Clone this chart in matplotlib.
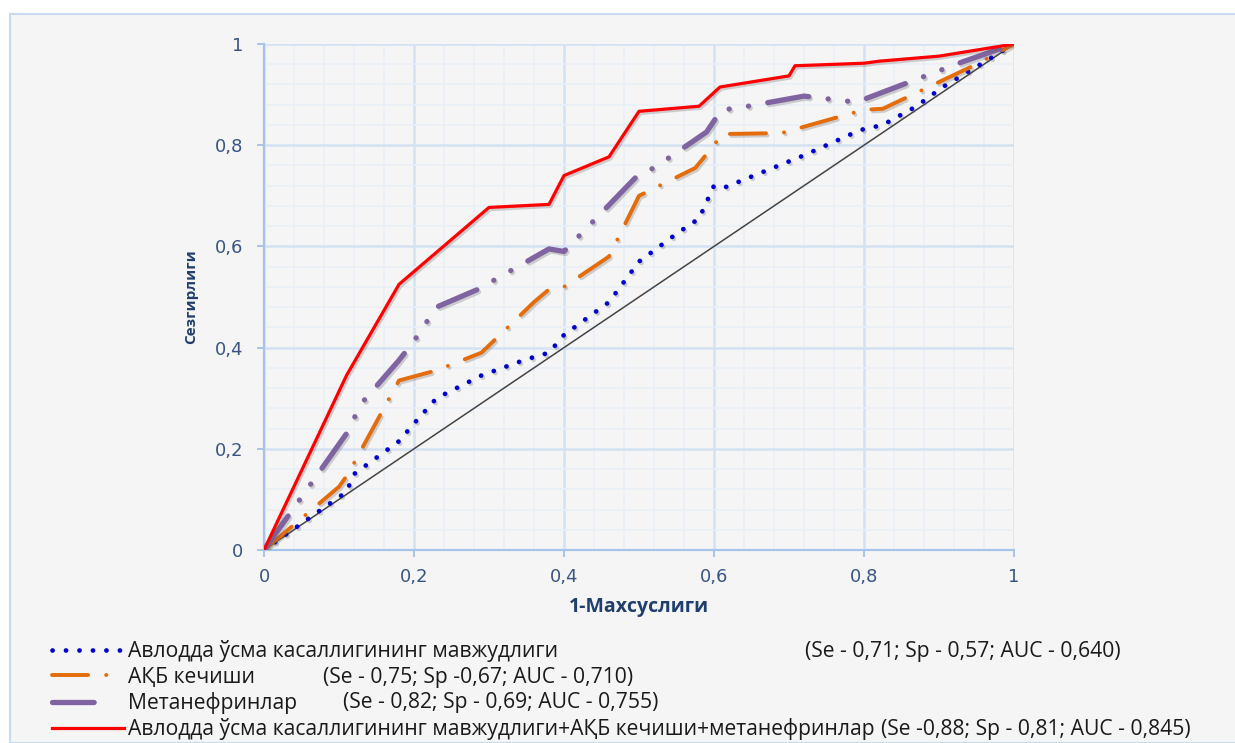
import matplotlib
matplotlib.use("Agg")
import matplotlib.pyplot as plt
import matplotlib.patheffects as pe
from matplotlib.patches import Rectangle
from matplotlib.ticker import MultipleLocator, FuncFormatter

plt.rcParams['lines.scale_dashes'] = False

# ROC curves
blue_x = [0, 0.11, 0.12, 0.18, 0.2, 0.23, 0.29, 0.35, 0.38, 0.4, 0.46, 0.5, 0.55, 0.58, 0.6, 0.615, 0.72, 0.795, 0.825, 0.87, 0.905, 1]
blue_y = [0, 0.115, 0.15, 0.215, 0.25, 0.3, 0.345, 0.377, 0.39, 0.425, 0.49, 0.57, 0.625, 0.655, 0.72, 0.717, 0.78, 0.83, 0.84, 0.877, 0.915, 1]

orange_x = [0, 0.1, 0.112, 0.18, 0.205, 0.23, 0.29, 0.36, 0.38, 0.4, 0.46, 0.5, 0.575, 0.6, 0.61, 0.69, 0.8, 0.825, 0.95, 1]
orange_y = [0, 0.125, 0.15, 0.335, 0.345, 0.355, 0.39, 0.49, 0.515, 0.52, 0.58, 0.70, 0.755, 0.80, 0.822, 0.824, 0.870, 0.872, 0.96, 1]

purple_x = [0, 0.11, 0.13, 0.18, 0.2, 0.23, 0.285, 0.38, 0.4, 0.5, 0.52, 0.59, 0.61, 0.63, 0.72, 0.79, 0.93, 1]
purple_y = [0, 0.23, 0.29, 0.375, 0.413, 0.48, 0.515, 0.595, 0.59, 0.743, 0.755, 0.826, 0.870, 0.873, 0.897, 0.885, 0.964, 1]

red_x = [0, 0.11, 0.18, 0.3, 0.38, 0.4, 0.46, 0.5, 0.58, 0.608, 0.7, 0.708, 0.8, 0.82, 0.9, 1]
red_y = [0, 0.345, 0.525, 0.677, 0.683, 0.74, 0.777, 0.867, 0.877, 0.915, 0.937, 0.957, 0.962, 0.966, 0.976, 1]

diag_x = [0, 1]
diag_y = [0, 1]

names = ['Авлодда ўсма касаллигининг мавжудлиги',
         'АҚБ кечиши',
         'Метанефринлар',
         'Авлодда ўсма касаллигининг мавжудлиги+АҚБ кечиши+метанефринлар']
stats = ['(Se - 0,71; Sp - 0,57; AUC - 0,640)',
         '(Se - 0,75; Sp -0,67; AUC - 0,710)',
         '(Se - 0,82; Sp - 0,69; AUC - 0,755)',
         '(Se -0,88; Sp - 0,81; AUC - 0,845)']
stats_px = [805, 323, 343, 873]   # left edge of the stats text, pixels

W, H = 1235, 743
fig = plt.figure(figsize=(W / 100, H / 100), dpi=100, facecolor='white')
fig.add_artist(Rectangle((10 / W, 0), 1.1, 1 - 14 / H, transform=fig.transFigure,
                         facecolor='#f5f5f5', edgecolor='#c9daf0', lw=1.5, zorder=-10))

ax = fig.add_axes([264 / W, 1 - 550 / H, 750 / W, 506 / H])
ax.set_facecolor('#f5f5f5')
ax.set_xlim(0, 1)
ax.set_ylim(0, 1)

ax.xaxis.set_major_locator(MultipleLocator(0.2))
ax.yaxis.set_major_locator(MultipleLocator(0.2))
ax.xaxis.set_minor_locator(MultipleLocator(0.04))
ax.yaxis.set_minor_locator(MultipleLocator(0.04))
ax.grid(which='major', color='#d5e2f3', lw=1.8)
ax.grid(which='minor', color='#e9eff8', lw=1.2)
ax.set_axisbelow(True)

fmt = FuncFormatter(lambda v, p: ('%g' % round(v, 2)).replace('.', ','))
ax.xaxis.set_major_formatter(fmt)
ax.yaxis.set_major_formatter(fmt)

for s in ['top', 'right']:
    ax.spines[s].set_visible(False)
for s in ['left', 'bottom']:
    ax.spines[s].set_color('#a9c4ea')
    ax.spines[s].set_linewidth(1.6)
ax.tick_params(which='major', length=5, width=1.4, color='#a9c4ea', labelsize=13,
               labelcolor='#3a5584', pad=10)
ax.tick_params(axis='x', pad=8)
ax.tick_params(which='minor', length=0)
for lab in ax.get_xticklabels() + ax.get_yticklabels():
    lab.set_family('DejaVu Sans')

shadow = [pe.SimpleLineShadow(offset=(1.2, -1.5), shadow_color='#555555', alpha=0.25), pe.Normal()]

ax.plot(diag_x, diag_y, color='#444444', lw=1.1, zorder=2)
l1, = ax.plot(blue_x, blue_y, color='#0000cc', lw=3.4, dashes=(0.1, 9.6),
              dash_capstyle='round', solid_capstyle='round', label=names[0], zorder=3,
              path_effects=shadow)
l2, = ax.plot(orange_x, orange_y, color='#e46c0a', lw=2.8, dashes=(26, 13, 0.1, 13),
              dash_capstyle='round', label=names[1], zorder=3, path_effects=shadow)
l3, = ax.plot(purple_x, purple_y, color='#8064a2', lw=3.8, dashes=(30, 14, 0.1, 14, 0.1, 14),
              dash_capstyle='round', label=names[2], zorder=3, path_effects=shadow)
l4, = ax.plot(red_x, red_y, color='#ff0000', lw=2.3, label=names[3], zorder=4,
              path_effects=shadow)

lab_font = dict(family='Open Sans', weight='bold', color='#213f6e')
ax.set_xlabel('1-Махсуслиги', fontsize=14, labelpad=8, **lab_font)
ax.set_ylabel('Сезгирлиги', fontsize=11, labelpad=12, **lab_font)

leg_font = dict(family='Open Sans', size=15.2)
leg = fig.legend(handles=[l1, l2, l3, l4], loc='upper left',
                 bbox_to_anchor=(44 / W, 1 - 632 / H), frameon=False,
                 prop=leg_font, handlelength=3.4, handletextpad=0.2,
                 labelspacing=0.2, borderaxespad=0, labelcolor='#1a1a1a')
for h in leg.legend_handles:
    h.set_path_effects([])
leg.legend_handles[2].set_dashes((30, 40))

fig.canvas.draw()
r = fig.canvas.get_renderer()
for t, s, px in zip(leg.get_texts(), stats, stats_px):
    bb = t.get_window_extent(r)
    yc = (bb.y0 + bb.y1) / 2 / H
    x0 = max(px, bb.x1 + 6)
    fig.text(x0 / W, yc, s, color='#1a1a1a', va='center', ha='left', **leg_font)

fig.savefig('out.png', dpi=100, facecolor='white')
